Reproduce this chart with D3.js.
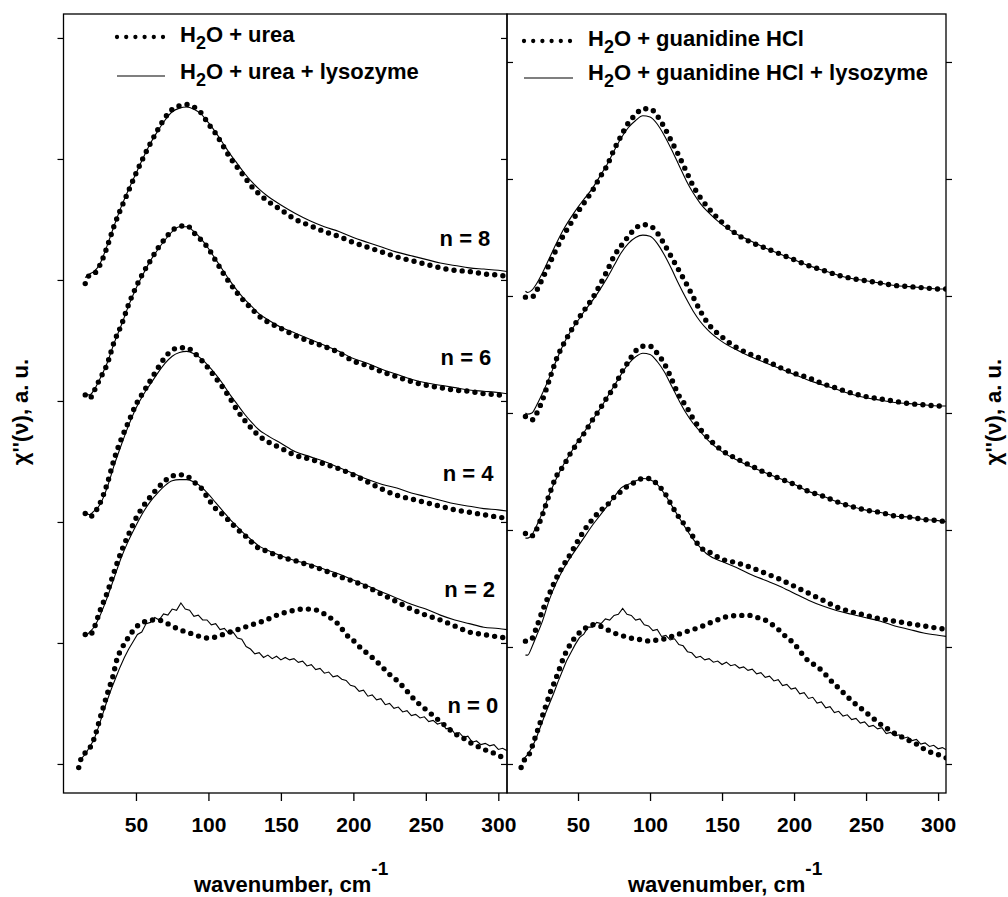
<!DOCTYPE html>
<html><head><meta charset="utf-8">
<script src="https://cdn.jsdelivr.net/npm/d3@7"></script>
<style>
body{margin:0;background:#fff;}
svg text{font-family:"Liberation Sans",Arial,Helvetica,sans-serif;font-weight:bold;fill:#000;}
</style></head><body>
<svg id="chart" width="1008" height="897"></svg>
<script>
// ---------- DATA ----------
const xTicks = [50,100,150,200,250,300];
const yTicks = [0,1,2,3,4,5,6];
const curveLabels = ["n = 8","n = 6","n = 4","n = 2","n = 0"];
const legendLeft = ["urea", "urea + lysozyme"];
const legendRight = ["guanidine HCl", "guanidine HCl + lysozyme"];

// wavenumber grids (cm^-1)
const gridL = [15,18,21,25,30,35,40,45,50,55,60,65,70,75,80,85,90,95,100,105,110,115,120,125,130,135,140,150,160,170,180,190,200,210,220,230,240,250,260,270,280,290,300,306];
const gridR = [13.5,15,18,21,25,30,35,40,45,50,55,60,65,70,75,80,85,90,95,100,105,110,115,120,125,130,135,140,150,160,170,180,190,200,210,220,230,240,250,260,270,280,290,300,306];
const grid0 = [10.5,13,16,19,22,25,28,31,34,37,40,45,50,55,60,65,70,75,80,85,90,95,100,105,110,115,120,125,130,135,140,145,150,155,160,165,170,175,180,185,190,195,200,205,210,215,220,225,230,235,240,245,250,255,260,265,270,275,280,285,290,295,300,306];
const gridN = [12,15,18,21,24,27,30,33,36,39,42,45,48,51,54,57,60,63,66,69,72,75,78,81,84,87,90,93,96,99,102,105,108,111,114,117,120,123,126,129,132,135,138,141,144,147,150,153,156,159,162,165,168,171,174,177,180,183,186,189,192,195,198,201,204,207,210,213,216,219,222,225,228,231,234,237,240,243,246,249,252,255,258,261,264,267,270,273,276,279,282,285,288,291,294,297,300,303,306];

// LEFT panel: H2O + urea (dots) / + lysozyme (line)
const ureaN8 = [3.97,4.04,4.05,4.12,4.27,4.45,4.60,4.74,4.88,5.01,5.13,5.24,5.34,5.41,5.44,5.45,5.43,5.38,5.29,5.21,5.11,5.01,4.93,4.85,4.77,4.71,4.66,4.58,4.50,4.45,4.40,4.36,4.31,4.27,4.23,4.19,4.16,4.13,4.10,4.08,4.07,4.05,4.04,4.03];
const ureaLysN8 = [4.02,4.05,4.07,4.13,4.28,4.45,4.61,4.75,4.88,5.01,5.13,5.23,5.32,5.39,5.42,5.43,5.41,5.37,5.30,5.22,5.13,5.04,4.96,4.88,4.81,4.75,4.70,4.62,4.55,4.49,4.44,4.40,4.35,4.31,4.27,4.23,4.20,4.17,4.14,4.12,4.10,4.09,4.08,4.07];
const ureaN6 = [3.05,3.02,3.08,3.18,3.30,3.49,3.63,3.80,3.94,4.06,4.16,4.26,4.34,4.41,4.44,4.45,4.39,4.33,4.26,4.16,4.06,3.97,3.89,3.82,3.76,3.70,3.66,3.60,3.54,3.49,3.45,3.40,3.33,3.29,3.24,3.20,3.16,3.13,3.11,3.09,3.08,3.06,3.05,3.04];
const ureaLysN6 = [3.05,3.05,3.09,3.18,3.31,3.48,3.63,3.79,3.93,4.05,4.16,4.25,4.33,4.40,4.44,4.44,4.40,4.34,4.26,4.17,4.08,3.99,3.91,3.84,3.78,3.72,3.68,3.61,3.56,3.51,3.46,3.41,3.35,3.31,3.26,3.22,3.18,3.15,3.13,3.11,3.09,3.08,3.07,3.06];
const ureaN4 = [2.07,2.04,2.07,2.15,2.31,2.52,2.69,2.83,2.97,3.07,3.17,3.27,3.36,3.42,3.44,3.44,3.40,3.34,3.27,3.19,3.11,3.02,2.92,2.84,2.77,2.71,2.67,2.61,2.55,2.52,2.48,2.44,2.39,2.33,2.27,2.22,2.19,2.16,2.13,2.10,2.08,2.06,2.04,2.03];
const ureaLysN4 = [2.08,2.06,2.09,2.14,2.28,2.47,2.64,2.80,2.94,3.05,3.14,3.23,3.31,3.37,3.40,3.41,3.39,3.35,3.29,3.22,3.14,3.05,2.97,2.89,2.82,2.76,2.72,2.65,2.58,2.54,2.50,2.45,2.40,2.35,2.31,2.28,2.24,2.21,2.18,2.15,2.13,2.11,2.10,2.09];
const ureaN2 = [1.07,1.06,1.12,1.26,1.41,1.59,1.76,1.90,2.03,2.13,2.21,2.28,2.34,2.38,2.39,2.38,2.33,2.28,2.19,2.11,2.06,2.00,1.94,1.89,1.83,1.78,1.76,1.71,1.68,1.64,1.60,1.55,1.51,1.46,1.40,1.34,1.28,1.23,1.19,1.14,1.09,1.07,1.05,1.04];
const ureaLysN2 = [1.05,1.09,1.13,1.22,1.37,1.54,1.71,1.85,1.97,2.08,2.17,2.24,2.30,2.34,2.35,2.35,2.33,2.29,2.23,2.16,2.09,2.02,1.96,1.90,1.85,1.80,1.77,1.72,1.68,1.65,1.61,1.57,1.52,1.47,1.42,1.37,1.32,1.28,1.23,1.19,1.16,1.13,1.12,1.11];
const ureaN0 = [-0.03,0.07,0.10,0.15,0.24,0.37,0.49,0.61,0.72,0.87,0.95,1.05,1.13,1.17,1.19,1.19,1.17,1.14,1.11,1.09,1.07,1.05,1.04,1.05,1.07,1.09,1.11,1.13,1.15,1.17,1.19,1.22,1.24,1.26,1.27,1.28,1.28,1.27,1.24,1.20,1.15,1.07,1.02,0.96,0.91,0.86,0.80,0.74,0.69,0.63,0.56,0.50,0.45,0.40,0.35,0.30,0.25,0.22,0.18,0.15,0.12,0.10,0.07,0.04];
const ureaLysN0 = [0.04,0.08,0.14,0.20,0.30,0.41,0.52,0.62,0.71,0.80,0.88,0.95,1.01,1.07,1.09,1.16,1.17,1.21,1.19,1.24,1.23,1.28,1.27,1.33,1.28,1.27,1.22,1.23,1.19,1.19,1.15,1.16,1.11,1.12,1.08,1.09,1.04,1.03,0.97,0.95,0.91,0.92,0.88,0.90,0.87,0.89,0.86,0.88,0.86,0.87,0.84,0.85,0.81,0.82,0.78,0.79,0.75,0.76,0.72,0.73,0.70,0.69,0.65,0.64,0.60,0.61,0.56,0.57,0.53,0.54,0.49,0.50,0.46,0.47,0.43,0.44,0.40,0.41,0.38,0.39,0.35,0.36,0.33,0.34,0.29,0.30,0.25,0.26,0.22,0.23,0.18,0.19,0.16,0.17,0.15,0.16,0.12,0.13,0.11];

// RIGHT panel: H2O + guanidine HCl (dots) / + lysozyme (line)
const guanN8 = [3.99,3.99,3.99,4.04,4.14,4.27,4.40,4.52,4.62,4.72,4.81,4.90,5.01,5.11,5.25,5.37,5.48,5.55,5.60,5.60,5.54,5.44,5.32,5.20,5.07,4.94,4.84,4.76,4.63,4.53,4.46,4.41,4.36,4.31,4.26,4.22,4.18,4.15,4.13,4.11,4.09,4.08,4.07,4.06,4.06];
const guanLysN8 = [4.04,4.03,4.05,4.10,4.19,4.32,4.45,4.57,4.67,4.76,4.84,4.92,5.02,5.12,5.24,5.35,5.44,5.50,5.54,5.53,5.47,5.37,5.25,5.12,4.99,4.88,4.79,4.72,4.61,4.53,4.47,4.41,4.36,4.31,4.26,4.22,4.18,4.15,4.13,4.11,4.09,4.08,4.07,4.06,4.06];
const guanN6 = [2.97,2.96,2.94,2.99,3.10,3.28,3.46,3.59,3.70,3.80,3.89,3.98,4.09,4.21,4.34,4.43,4.51,4.58,4.61,4.60,4.54,4.44,4.33,4.22,4.11,3.99,3.87,3.77,3.65,3.56,3.50,3.45,3.39,3.34,3.30,3.25,3.21,3.17,3.14,3.12,3.10,3.08,3.07,3.06,3.06];
const guanLysN6 = [3.00,2.99,3.00,3.06,3.16,3.30,3.45,3.59,3.70,3.79,3.88,3.96,4.05,4.15,4.26,4.37,4.45,4.50,4.52,4.51,4.45,4.35,4.23,4.10,3.98,3.87,3.78,3.71,3.61,3.54,3.48,3.43,3.38,3.33,3.28,3.24,3.20,3.16,3.13,3.11,3.09,3.08,3.07,3.06,3.06];
const guanN4 = [1.97,1.95,1.95,2.00,2.12,2.30,2.46,2.55,2.66,2.75,2.84,2.94,3.03,3.13,3.22,3.34,3.44,3.53,3.57,3.57,3.51,3.42,3.29,3.15,3.06,2.95,2.86,2.79,2.68,2.61,2.55,2.49,2.44,2.39,2.33,2.29,2.24,2.20,2.17,2.15,2.12,2.11,2.09,2.08,2.07];
const guanLysN4 = [1.93,1.93,1.96,2.03,2.14,2.30,2.44,2.56,2.66,2.76,2.85,2.94,3.03,3.13,3.23,3.33,3.42,3.48,3.51,3.50,3.44,3.35,3.23,3.11,3.00,2.91,2.84,2.77,2.67,2.60,2.54,2.49,2.44,2.39,2.33,2.29,2.24,2.20,2.17,2.15,2.12,2.11,2.09,2.08,2.07];
const guanN2 = [1.05,1.05,1.07,1.16,1.30,1.45,1.59,1.70,1.80,1.91,2.01,2.09,2.16,2.21,2.28,2.33,2.38,2.41,2.44,2.44,2.39,2.32,2.21,2.11,2.03,1.94,1.85,1.82,1.75,1.72,1.68,1.63,1.58,1.52,1.46,1.40,1.34,1.30,1.27,1.24,1.22,1.20,1.18,1.16,1.15];
const guanLysN2 = [0.93,0.93,1.00,1.09,1.21,1.40,1.55,1.67,1.77,1.86,1.95,2.04,2.12,2.20,2.28,2.36,2.39,2.42,2.44,2.43,2.39,2.31,2.21,2.11,2.01,1.92,1.85,1.79,1.73,1.68,1.62,1.57,1.52,1.46,1.40,1.35,1.31,1.28,1.25,1.22,1.18,1.15,1.12,1.10,1.09];
const guanN0 = [-0.03,0.04,0.08,0.18,0.29,0.40,0.51,0.62,0.71,0.81,0.91,1.03,1.11,1.16,1.19,1.18,1.15,1.12,1.10,1.08,1.07,1.06,1.05,1.06,1.07,1.09,1.11,1.13,1.15,1.17,1.20,1.22,1.25,1.26,1.27,1.27,1.27,1.25,1.23,1.19,1.14,1.08,1.03,0.95,0.88,0.84,0.79,0.72,0.66,0.60,0.54,0.49,0.44,0.39,0.34,0.30,0.26,0.23,0.20,0.17,0.13,0.10,0.08,0.05];
const guanLysN0 = [0.04,0.08,0.14,0.22,0.32,0.42,0.51,0.60,0.70,0.79,0.88,0.95,1.02,1.08,1.11,1.17,1.17,1.21,1.20,1.24,1.23,1.27,1.28,1.33,1.28,1.27,1.23,1.24,1.19,1.18,1.14,1.15,1.09,1.10,1.06,1.07,1.02,1.01,0.96,0.95,0.91,0.92,0.89,0.90,0.87,0.88,0.85,0.87,0.84,0.85,0.82,0.83,0.80,0.81,0.77,0.78,0.74,0.75,0.71,0.72,0.67,0.68,0.64,0.65,0.60,0.61,0.56,0.57,0.52,0.53,0.48,0.49,0.44,0.45,0.41,0.42,0.38,0.39,0.35,0.36,0.32,0.33,0.30,0.31,0.26,0.27,0.24,0.25,0.22,0.23,0.20,0.21,0.17,0.18,0.15,0.16,0.13,0.14,0.12];

// ---------- LAYOUT ----------
(function draw() {
const svg = d3.select("#chart");
const yTop = 14, yBot = 793;
const panels = [
  { x0: 63.5, x1: 507, x: d3.scaleLinear().domain([0,306]).range([63.5,507]),
    y: d3.scaleLinear().domain([-0.24,6.198]).range([yBot,yTop]),
    grid: gridL,
    dots: [ureaN8,ureaN6,ureaN4,ureaN2], lines: [ureaLysN8,ureaLysN6,ureaLysN4,ureaLysN2],
    dots0: ureaN0, line0: ureaLysN0, legend: legendLeft,
    legX: 180, legY: [42,79], legSample: [117,165], legSy: [37,76], titleX: 194 },
  { x0: 507, x1: 946, x: d3.scaleLinear().domain([0,305.5]).range([506,946]),
    y: d3.scaleLinear().domain([-0.248,6.41]).range([yBot,yTop]),
    grid: gridR,
    dots: [guanN8,guanN6,guanN4,guanN2], lines: [guanLysN8,guanLysN6,guanLysN4,guanLysN2],
    dots0: guanN0, line0: guanLysN0, legend: legendRight,
    legX: 588, legY: [46,80], legSample: [524,573], legSy: [41,78], titleX: 628 }
];

const DOT_W = 5.4, DOT_GAP = "0 8.2";

panels.forEach((p, pi) => {
  const g = svg.append("g");
  const clipId = "clip" + pi;
  svg.append("clipPath").attr("id", clipId).append("rect")
    .attr("x", p.x0).attr("y", yTop).attr("width", p.x1 - p.x0).attr("height", yBot - yTop);
  const plot = g.append("g").attr("clip-path", `url(#${clipId})`);

  const smooth = d3.line().x(d => p.x(d[0])).y(d => p.y(d[1])).curve(d3.curveMonotoneX);
  const jag = d3.line().x(d => p.x(d[0])).y(d => p.y(d[1])).curve(d3.curveLinear);
  const zip = (xs, ys) => xs.map((v, i) => [v, ys[i]]);

  p.lines.forEach(ys => {
    plot.append("path").attr("d", smooth(zip(p.grid, ys)))
      .attr("fill", "none").attr("stroke", "#000").attr("stroke-width", 1.1);
  });
  plot.append("path").attr("d", jag(zip(gridN, p.line0)))
    .attr("fill", "none").attr("stroke", "#000").attr("stroke-width", 1.1);

  p.dots.forEach(ys => {
    plot.append("path").attr("d", smooth(zip(p.grid, ys)))
      .attr("fill", "none").attr("stroke", "#000").attr("stroke-width", DOT_W)
      .attr("stroke-linecap", "round").attr("stroke-dasharray", DOT_GAP);
  });
  plot.append("path").attr("d", smooth(zip(grid0, p.dots0)))
    .attr("fill", "none").attr("stroke", "#000").attr("stroke-width", DOT_W)
    .attr("stroke-linecap", "round").attr("stroke-dasharray", DOT_GAP);

  g.append("rect").attr("x", p.x0).attr("y", yTop).attr("width", p.x1 - p.x0).attr("height", yBot - yTop)
    .attr("fill", "none").attr("stroke", "#000").attr("stroke-width", 1.3);

  const xa = g.append("g").attr("transform", `translate(0,${yBot})`)
    .call(d3.axisBottom(p.x).tickValues(xTicks).tickSize(8).tickPadding(16).tickFormat(d3.format("d")));
  xa.select(".domain").remove();
  xa.selectAll("line").attr("stroke", "#000").attr("stroke-width", 1.3);
  xa.selectAll("text").attr("font-size", 21).attr("fill", "#000");

  const yt = (axis, xpos) => {
    const a = g.append("g").attr("transform", `translate(${xpos},0)`)
      .call(axis.tickValues(yTicks).tickSize(6).tickFormat(""));
    a.select(".domain").remove();
    a.selectAll("line").attr("stroke", "#000").attr("stroke-width", 1.2);
  };
  if (pi === 0) { yt(d3.axisLeft(p.y), p.x0); yt(d3.axisLeft(p.y), p.x1); }
  else { yt(d3.axisRight(p.y), p.x0); yt(d3.axisRight(p.y), p.x1); }

  const t = g.append("text").attr("x", p.titleX).attr("y", 892).attr("font-size", 22);
  t.append("tspan").text("wavenumber, cm");
  t.append("tspan").attr("dy", -17).attr("font-size", 19).text("-1");

  p.legend.forEach((lab, i) => {
    const ly = p.legSy[i];
    const s = g.append("line").attr("x1", p.legSample[0]).attr("x2", p.legSample[1])
      .attr("y1", ly).attr("y2", ly).attr("stroke", "#000");
    if (i === 0) s.attr("stroke-width", 4.3).attr("stroke-linecap", "round").attr("stroke-dasharray", "0 9.2");
    else s.attr("stroke-width", 1.1);
    const tx = g.append("text").attr("x", p.legX).attr("y", p.legY[i]).attr("font-size", 22);
    tx.append("tspan").text("H");
    tx.append("tspan").attr("dy", 7).attr("font-size", 18).text("2");
    tx.append("tspan").attr("dy", -7).text("O + " + lab);
  });
});

const pL = panels[0];
const labelPos = [[294.5,4.28],[295.2,3.30],[296.6,2.34],[297.8,1.38],[299.9,0.42]];
curveLabels.forEach((s, i) => {
  svg.append("text").attr("x", pL.x(labelPos[i][0])).attr("y", pL.y(labelPos[i][1]))
    .attr("text-anchor", "end").attr("font-size", 22).text(s);
});

[[28, 412], [1001, 412]].forEach(([x, y]) => {
  svg.append("text").attr("transform", `translate(${x},${y}) rotate(-90)`)
    .attr("text-anchor", "middle").attr("font-size", 22).text("χ''(ν), a. u.");
});
})();
</script>
</body></html>
